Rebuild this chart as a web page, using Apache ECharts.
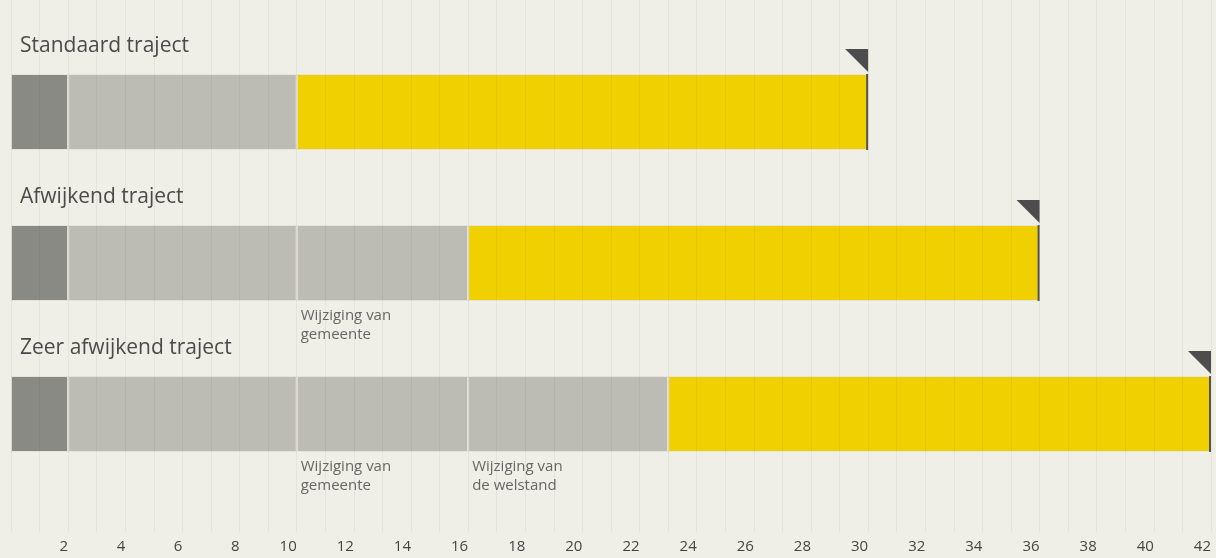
<!DOCTYPE html>
<html><head><meta charset="utf-8">
<script src="https://cdn.jsdelivr.net/npm/echarts@6/dist/echarts.min.js"></script>
<style>html,body{margin:0;padding:0;background:#f0efe7;}#c{width:1216px;height:558px;}</style>
</head><body><div id="c"></div>
<script>
const categories = ['Standaard traject', 'Afwijkend traject', 'Zeer afwijkend traject'];
const startPhase = [2, 2, 2];
const basePhase = [8, 8, 8];
const gemeentePhase = [0, 6, 6];
const welstandPhase = [0, 0, 7];
const yellowPhase = [20, 20, 19];
const gemeenteLabel = 'Wijziging van\ngemeente';
const welstandLabel = 'Wijziging van\nde welstand';
const tickValues = [2,4,6,8,10,12,14,16,18,20,22,24,26,28,30,32,34,36,38,40,42];

const FONT = '"Open Sans", Lato, sans-serif';
const totals = categories.map((c, i) => startPhase[i] + basePhase[i] + gemeentePhase[i] + welstandPhase[i] + yellowPhase[i]);
const annotations = [];
categories.forEach((c, i) => {
  if (gemeentePhase[i] > 0) annotations.push([startPhase[i] + basePhase[i], i, gemeenteLabel]);
  if (welstandPhase[i] > 0) annotations.push([startPhase[i] + basePhase[i] + gemeentePhase[i], i, welstandLabel]);
});

const BAR_H = 76;
const border = { borderColor: '#e4e3dc', borderWidth: 1 };
function barSeries(name, data, color) {
  return { type: 'bar', name, stack: 'all', xAxisIndex: 1, yAxisIndex: 1, barWidth: BAR_H, z: 2,
    data, itemStyle: Object.assign({ color }, border), silent: true };
}

const chart = echarts.init(document.getElementById('c'));
chart.setOption({
  backgroundColor: '#f0efe7',
  animation: false,
  grid: [
    { left: 11, right: 5, top: 0, bottom: 26 },
    { left: 11, right: 5, top: 36.5, height: 453 }
  ],
  xAxis: [
    { gridIndex: 0, type: 'value', min: 0, max: 42, interval: 1, z: 10,
      axisLine: { show: false }, axisTick: { show: false },
      splitLine: { show: true, lineStyle: { color: 'rgba(60,60,40,0.06)', width: 1 } },
      axisLabel: { show: true, margin: 7, align: 'right', color: '#444', fontFamily: FONT, fontSize: 15,
        showMaxLabel: true, showMinLabel: false,
        formatter: v => tickValues.indexOf(v) >= 0 ? String(v) : '' } },
    { gridIndex: 1, type: 'value', min: 0, max: 42, show: false }
  ],
  yAxis: [
    { gridIndex: 0, type: 'value', show: false },
    { gridIndex: 1, type: 'category', data: categories, inverse: true, show: false }
  ],
  series: [
    barSeries('start', startPhase, '#8a8a84'),
    barSeries('base', basePhase, '#bcbbb4'),
    barSeries('gemeente', gemeentePhase, '#bcbbb4'),
    barSeries('welstand', welstandPhase, '#bcbbb4'),
    barSeries('doorloop', yellowPhase, '#f0d000'),
    {
      type: 'custom', xAxisIndex: 1, yAxisIndex: 1, z: 20, silent: true,
      data: totals.map((t, i) => [t, i, categories[i]]),
      encode: { x: 0, y: 1 },
      renderItem: function (params, api) {
        const end = api.coord([api.value(0), api.value(1)]);
        const x0 = api.coord([0, api.value(1)])[0];
        const top = end[1] - BAR_H / 2;
        return { type: 'group', children: [
          { type: 'rect', shape: { x: end[0] - 2, y: top, width: 2, height: BAR_H }, style: { fill: '#555' } },
          { type: 'polygon', shape: { points: [[end[0] - 23, top - 25], [end[0], top - 25], [end[0], top - 2]] }, style: { fill: '#4d4d4d' } },
          { type: 'text', x: x0 + 9, y: top - 28, style: { text: categories[params.dataIndex], fill: '#4a4a4a',
              font: '21px ' + FONT, textAlign: 'left', textVerticalAlign: 'middle' } }
        ]};
      }
    },
    {
      type: 'custom', xAxisIndex: 1, yAxisIndex: 1, z: 20, silent: true,
      data: annotations,
      encode: { x: 0, y: 1 },
      renderItem: function (params, api) {
        const p = api.coord([api.value(0), api.value(1)]);
        const bottom = p[1] + BAR_H / 2;
        return { type: 'text', x: p[0] + 4, y: bottom + 5, style: {
          text: annotations[params.dataIndex][2], fill: '#666', fontFamily: FONT, fontSize: 15,
          lineHeight: 19, textAlign: 'left', textVerticalAlign: 'top' } };
      }
    }
  ]
});
</script></body></html>
